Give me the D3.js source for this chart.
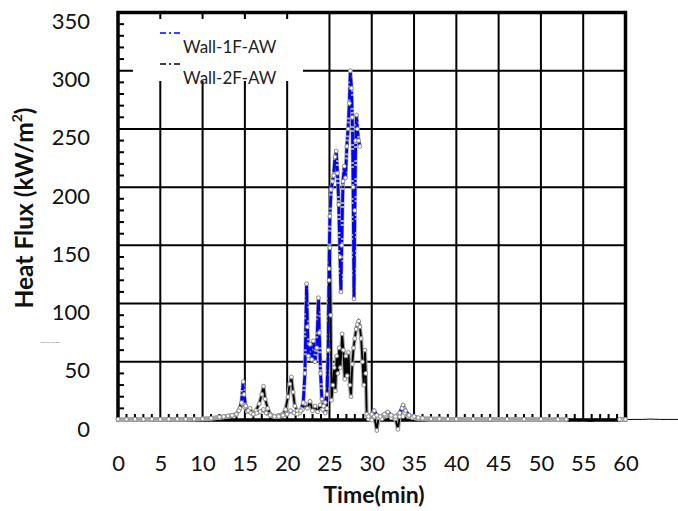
<!DOCTYPE html>
<html><head><meta charset="utf-8">
<script src="https://cdn.jsdelivr.net/npm/d3@7"></script>
<style>
html,body{margin:0;padding:0;background:#fff;}
svg{display:block;font-family:Lato,"Open Sans",sans-serif;}
</style></head>
<body>
<svg id="chart" width="678" height="511"></svg>
<script>
// ---- data (time in min, heat flux in kW/m2) ----
const seriesNames = ["Wall-1F-AW", "Wall-2F-AW"];
const xTicks = [0,5,10,15,20,25,30,35,40,45,50,55,60];
const yTicks = [0,50,100,150,200,250,300,350];

const time1F = [0,1,2,3,4,5,6,7,8,9,10,11,12,12.5,13,13.5,14,14.3,14.6,14.8,14.9,15.1,15.4,15.7,16,16.4,16.8,17.2,17.5,18,18.5,19,19.5,20,20.4,20.8,21.2,21.6,21.9,22.1,22.3,22.4,22.5,22.7,22.9,23.1,23.3,23.5,23.7,23.8,23.95,24.1,24.3,24.5,24.7,24.85,24.95,25.05,25.2,25.35,25.5,25.65,25.8,25.95,26.1,26.25,26.35,26.45,26.6,26.75,26.9,27.05,27.2,27.35,27.47,27.6,27.7,27.8,27.9,28.0,28.1,28.2,28.3,28.45,28.6,28.7,29.6,30,30.3,30.6,31,31.5,31.9,32.3,32.8,33.3,33.7,34,34.4,35,35.5,36,37,38,39,40,42,44,46,48,50,52,53,56,59.3,60];
const flux1F = [0.5,0.5,0.6,0.5,0.6,0.5,0.6,0.7,0.7,0.8,1,1.5,2.5,3,3.5,4,5,8,15,33,22,12,8,6,5,6,7,9,6,4,3,3,4,5,8,6,5,8,15,40,117,80,55,65,52,68,50,62,105,75,40,18,12,15,22,60,130,175,198,205,210,226,231,212,185,140,110,150,205,218,208,235,250,272,300,285,260,200,104,180,240,262,250,240,235,null,3,5,8,4,3,5,7,4,3,6,13,8,4,3,2,1.5,1,1,0.8,0.8,0.7,0.7,0.6,0.6,0.6,0.5,0.5,null,0.5,0.5];

const time2F = [0,1,2,3,4,5,6,7,8,9,10,11,12,12.5,13,13.5,14,14.4,14.7,15,15.3,15.6,15.9,16.3,16.7,17,17.2,17.4,17.7,18,18.5,19,19.5,19.8,20.1,20.3,20.5,20.7,20.9,21.2,21.5,21.8,22.1,22.4,22.7,23,23.3,23.6,23.9,24.2,24.5,24.7,24.85,24.95,25.05,25.15,25.25,25.4,25.55,25.7,25.85,26,26.15,26.3,26.5,26.65,26.8,26.95,27.1,27.25,27.4,27.55,27.7,27.85,28,28.15,28.3,28.45,28.6,28.75,28.9,29.05,29.2,29.3,29.4,29.6,30,30.3,30.6,30.8,31.2,31.6,31.9,32.3,32.8,33.1,33.3,33.6,33.9,34.3,34.8,35.5,36,37,38,40,42,44,46,48,50,52,53,54,55,56,56.5,57,58,59,59.5,60,61,62,63,64,65,66,66.5];
const flux2F = [0.3,0.3,0.4,0.3,0.4,0.4,0.5,0.5,0.6,0.6,0.8,1.2,2,2.5,3,4,5,10,14,11,7,10,5,8,14,22,29,18,10,5,3,4,5,9,20,31,37,24,12,8,6,9,14,10,16,8,12,7,13,9,6,10,60,120,148,90,17,30,45,25,55,40,62,45,74,60,35,55,38,58,30,20,48,62,70,78,82,85,80,70,50,30,60,40,5,1,0,3,-9,2,1,4,6,2,1,-8,3,10,6,3,2,1,0.8,0.5,0.5,0.4,0.4,0.4,0.3,0.3,0.3,0.3,0.3,0.2,0.2,-1,0.2,0.2,0.2,0.2,0.3,0.3,0.5,0.5,0.8,0.5,0.5,0.5,0.5];

const markerEnd = 53, markerResume = 59.2, markerStop = 60, quietLevel = 6;

// ---- layout ----
const svg = d3.select("#chart");
const x = d3.scaleLinear().domain([0,60]).range([118,625.5]);
const y = d3.scaleLinear().domain([0,350]).range([420,12.5]);

const g = svg.append("g");

// grid
g.append("g").selectAll("line").data(xTicks.filter(t=>t>0&&t<60)).join("line")
  .attr("x1",d=>x(d)).attr("x2",d=>x(d)).attr("y1",y(350)).attr("y2",y(0))
  .attr("stroke","#000").attr("stroke-width",2);
g.append("g").selectAll("line").data(yTicks.filter(v=>v>0&&v<350)).join("line")
  .attr("x1",x(0)).attr("x2",x(60)).attr("y1",d=>y(d)).attr("y2",d=>y(d))
  .attr("stroke","#000").attr("stroke-width",2);

// legend background
g.append("rect").attr("x",133).attr("y",19).attr("width",170).attr("height",62).attr("fill","#fff");

// minor ticks
const minorY = d3.range(10,350,10).filter(v=>v%50!==0);
g.append("g").selectAll("line").data(minorY).join("line")
  .attr("x1",x(0)).attr("x2",x(0)+6).attr("y1",d=>y(d)).attr("y2",d=>y(d))
  .attr("stroke","#000").attr("stroke-width",2);
const minorX = d3.range(1,60,1).filter(t=>t%5!==0);
g.append("g").selectAll("line").data(minorX).join("line")
  .attr("x1",d=>x(d)).attr("x2",d=>x(d)).attr("y1",y(0)).attr("y2",y(0)-6)
  .attr("stroke","#000").attr("stroke-width",2);

// frame
g.append("rect").attr("x",x(0)).attr("y",y(350)).attr("width",x(60)-x(0)).attr("height",y(0)-y(350))
  .attr("fill","none").attr("stroke","#000").attr("stroke-width",3.5);

// axes labels
const xAxis = g.append("g").attr("transform",`translate(0,${y(0)})`)
  .call(d3.axisBottom(x).tickValues(xTicks).tickSize(0).tickPadding(35).tickFormat(d3.format("d")));
xAxis.select(".domain").remove();
xAxis.selectAll("text").attr("font-family","Lato").attr("font-size",22).attr("fill","#111");

const yAxis = g.append("g").attr("transform",`translate(${x(0)},0)`)
  .call(d3.axisLeft(y).tickValues(yTicks).tickSize(0).tickPadding(28).tickFormat(d3.format("d")));
yAxis.select(".domain").remove();
yAxis.selectAll("text").attr("font-family","Lato").attr("font-size",22).attr("fill","#111").attr("dy","0.73em");

// titles
svg.append("text").attr("x",374).attr("y",503).attr("text-anchor","middle")
  .attr("font-family","Lato").attr("font-weight","bold").attr("font-size",23).attr("fill","#111")
  .text("Time(min)");
const yt = svg.append("text").attr("transform","translate(33,208) rotate(-90)").attr("text-anchor","middle")
  .attr("font-family","Lato").attr("font-weight","bold").attr("font-size",24.5).attr("fill","#111");
yt.append("tspan").text("Heat Flux (kW/m");
yt.append("tspan").attr("font-size",14).attr("dy",-11).text("2");
yt.append("tspan").attr("dy",11).text(")");
svg.append("text").attr("x",40).attr("y",343).attr("font-size",2.4).attr("fill","#555")
  .attr("font-family","Lato").text("Heat Flux (kW/m2)");

// data
const d1 = time1F.map((t,i)=>({t, v:flux1F[i]}));
const d2 = time2F.map((t,i)=>({t, v:flux2F[i]}));
const inMark = d => d.v!==null && (d.t<=markerEnd || (d.t>=markerResume && d.t<=markerStop));
const line = d3.line().defined(d=>d.v!==null).x(d=>x(d.t)).y(d=>y(d.v));
const lineIn = d3.line().defined(d=>d.v!==null && d.t<=markerStop).x(d=>x(d.t)).y(d=>y(d.v));
const lineOut = d3.line().defined(d=>d.v!==null && d.t>=markerStop).x(d=>x(d.t)).y(d=>y(d.v));
const bandLine = d3.line().defined(inMark).x(d=>x(d.t)).y(d=>y(d.v));
const quietLine = d3.line().defined(d=>inMark(d) && Math.abs(d.v)<=quietLevel).x(d=>x(d.t)).y(d=>y(d.v));

const data = g.append("g");
[d2,d1].forEach(ds=>{
  data.append("path").attr("d",bandLine(ds)).attr("fill","none")
    .attr("stroke","#a6a6a6").attr("stroke-width",4).attr("stroke-linejoin","round");
});
data.append("path").attr("d",lineIn(d2)).attr("fill","none").attr("stroke","#000").attr("stroke-width",1.8);
data.append("path").attr("d",lineOut(d2)).attr("fill","none").attr("stroke","#000").attr("stroke-width",1);
data.append("path").attr("d",line(d1)).attr("fill","none").attr("stroke","#0000ff").attr("stroke-width",2.8)
  .attr("stroke-dasharray","12,2,2,2");
// dense markers along quiet stretches read as a continuous grey band
[d2,d1].forEach(ds=>{
  data.append("path").attr("d",quietLine(ds)).attr("fill","none")
    .attr("stroke","#a6a6a6").attr("stroke-width",4).attr("stroke-linejoin","round");
});
[d2,d1].forEach(ds=>{
  data.append("g").selectAll("circle").data(ds.filter(inMark)).join("circle")
    .attr("cx",d=>x(d.t)).attr("cy",d=>y(d.v)).attr("r",1.9)
    .attr("fill","#fff").attr("stroke","#8c8c8c").attr("stroke-width",1);
});

// legend
const leg = svg.append("g");
const legColors = ["#0000ff","#000"];
seriesNames.forEach((name,i)=>{
  const ly = 33 + i*31;
  leg.append("line").attr("x1",160).attr("x2",181).attr("y1",ly).attr("y2",ly)
    .attr("stroke",legColors[i]).attr("stroke-width",1.5).attr("stroke-dasharray","6,3,2,3");
  leg.append("text").attr("x",183).attr("y",ly+20).attr("font-family","Lato").attr("font-size",17)
    .attr("fill","#222").text(name);
});
</script>
</body></html>
